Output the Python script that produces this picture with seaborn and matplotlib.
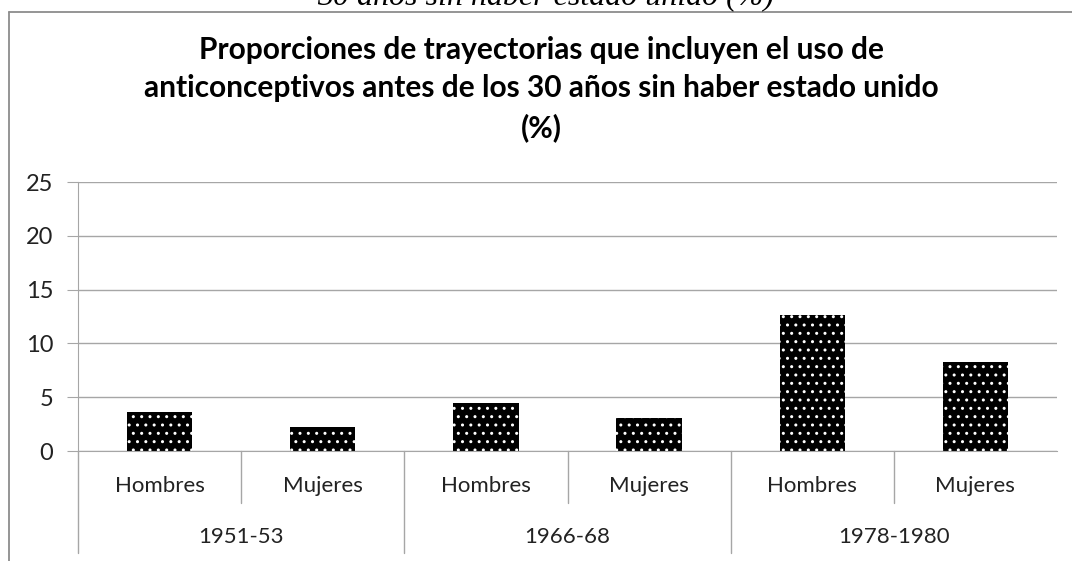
import pandas as pd
import matplotlib
import matplotlib.pyplot as plt
import matplotlib.transforms as mtransforms
from matplotlib.lines import Line2D
import seaborn as sns

matplotlib.use('agg')

# Datos
cohortes = ['1951-53', '1966-68', '1978-1980']
sexos = ['Hombres', 'Mujeres']
valores = [3.6, 2.2, 4.5, 3.1, 12.6, 8.3]

titulo = ('Proporciones de trayectorias que incluyen el uso de\n'
          'anticonceptivos antes de los 30 años sin haber estado unido\n(%)')
texto_superior = '30 años sin haber estado unido (%)'

# Tabla larga para seaborn
filas = []
for i, c in enumerate(cohortes):
    for j, s in enumerate(sexos):
        filas.append({'cohorte': c, 'sexo': s, 'clave': c + '|' + s,
                      'valor': valores[i * len(sexos) + j]})
df = pd.DataFrame(filas)

sns.set_style('white')
plt.rcParams['font.family'] = ['Lato', 'DejaVu Sans']
plt.rcParams['hatch.linewidth'] = 1.0

gris = '#a6a6a6'
fig = plt.figure(figsize=(10.72, 5.61), dpi=100)
ax = fig.add_axes([0.0728, 0.196, 0.9132, 0.4795])

sns.barplot(data=df, x='clave', y='valor', order=list(df['clave']),
            color='black', edgecolor='white', linewidth=0, hatch='..',
            width=0.4, saturation=1, errorbar=None, ax=ax)

ax.set_ylim(0, 25)
ax.set_xlim(-0.5, len(df) - 0.5)
ax.set_yticks(range(0, 26, 5))
ax.yaxis.grid(True, color=gris, linewidth=1)
ax.set_axisbelow(True)
ax.set_xlabel('')
ax.set_ylabel('')
ax.set_xticks([])
for lado in ['top', 'right']:
    ax.spines[lado].set_visible(False)
ax.spines['left'].set_color(gris)
ax.spines['bottom'].set_color(gris)
ax.tick_params(axis='y', left=True, length=8, color=gris, labelsize=17,
               labelcolor='#222222', pad=10)

# Eje de categorias en dos niveles
trans = mtransforms.blended_transform_factory(ax.transData, ax.transAxes)
for k, s in enumerate(df['sexo']):
    ax.text(k, -0.13, s, transform=trans, ha='center', va='center',
            fontsize=16, color='#222222')
for i, c in enumerate(cohortes):
    ax.text(i * 2 + 0.5, -0.32, c, transform=trans, ha='center', va='center',
            fontsize=16, color='#222222')
    ax.add_line(Line2D([i * 2 + 0.5] * 2, [0, -0.193], transform=trans,
                       color=gris, linewidth=1, clip_on=False))
for x in [-0.5, 1.5, 3.5]:
    ax.add_line(Line2D([x, x], [0, -0.379], transform=trans,
                       color=gris, linewidth=1, clip_on=False))

# Marco del area del grafico (recortado a la derecha y abajo)
fig.add_artist(Line2D([0.0084, 0.0084], [0.0, 0.9795], color='#8c8c8c', linewidth=1.3))
fig.add_artist(Line2D([0.0084, 1.0], [0.9795, 0.9795], color='#8c8c8c', linewidth=1.3))

fig.text(0.505, 0.936, titulo, ha='center', va='top', fontsize=21.5,
         fontweight='bold', linespacing=1.45, color='black')
fig.text(0.509, 0.991, texto_superior, ha='center', va='baseline', fontsize=23,
         style='italic', family='Liberation Serif', color='black')

plt.savefig('out.png', dpi=100)
plt.close()
